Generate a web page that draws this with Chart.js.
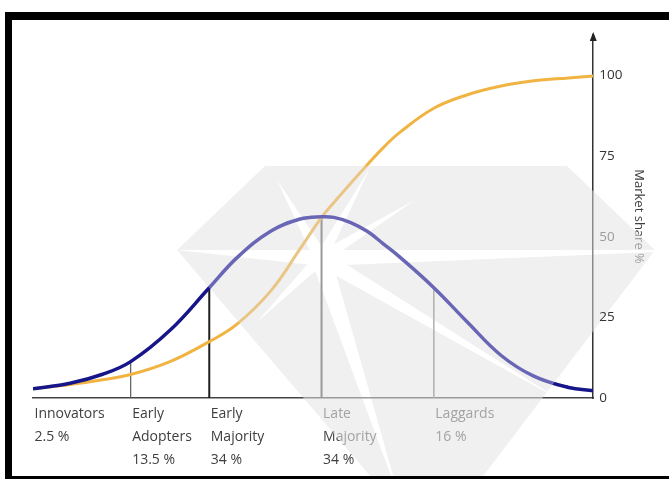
<!DOCTYPE html>
<html>
<head>
<meta charset="utf-8">
<script src="https://cdn.jsdelivr.net/npm/chart.js@4"></script>
<style>
  html, body { margin: 0; padding: 0; background: #fff; overflow: hidden; }
  #wrap { position: relative; width: 669px; height: 479px; }
  #c { position: absolute; left: 0; top: 0; }
  .bar { position: absolute; background: #000; }
</style>
</head>
<body>
<div id="wrap">
  <canvas id="c" width="669" height="479"></canvas>
  <div class="bar" style="left:5px;top:12px;width:664px;height:8px"></div>
  <div class="bar" style="left:5px;top:12px;width:7px;height:467px"></div>
  <div class="bar" style="left:5px;top:476px;width:664px;height:3px"></div>
</div>
<script>
// Adoption time, in standard deviations from the mean adoption time
const adoptionTime = [-2.57, -2.24, -1.95, -1.7, -1.35, -1, -0.75, -0.45, -0.19, 0, 0.11,
                      0.26, 0.41, 0.55, 0.7, 1, 1.3, 1.6, 1.89, 2.2, 2.42];
// Share of adopters entering at each moment (bell curve)
const adopterShare = [2.9, 4.6, 7.4, 11.3, 21.0, 34.2, 43.6, 51.8, 55.5, 56.2, 56.0,
                      54.4, 51.6, 47.8, 43.6, 34.2, 23.5, 13.2, 6.8, 3.3, 2.3];
// Cumulative market share (S curve)
const marketShare = [2.9, 4.2, 5.7, 7.3, 11.3, 17.5, 23.0, 33.3, 46.3, 56.0, 60.6,
                     66.6, 72.4, 77.6, 82.4, 89.8, 94.0, 96.7, 98.3, 99.2, 99.8];

// Adopter categories
const categoryNames  = ['Innovators', 'Early Adopters', 'Early Majority', 'Late Majority', 'Laggards'];
const categoryShares = [2.5, 13.5, 34, 34, 16];
const categoryStarts = [-2.57, -1.7, -1, 0, 1];

// Market share axis ticks
const shareTicks = [0, 25, 50, 75, 100];
const shareTitle = 'Market share %';

const FONT = 'Open Sans';
const LABEL_SIZE = 14, LABEL_LH = 1.64;
const W = 669, H = 479;
const categoryLabels = categoryNames.map((n, i) =>
  (n.indexOf(' ') > 0 ? n.split(' ') : [n]).concat([categoryShares[i] + ' %']));

// Faint gem-shaped backdrop: everything inside it is drawn a shade lighter
const GEM = [[265, 166], [567, 166], [655, 250], [430, 546], [177, 250]];
function addGem(g) {
  g.moveTo(GEM[0][0], GEM[0][1]);
  for (let i = 1; i < GEM.length; i++) g.lineTo(GEM[i][0], GEM[i][1]);
  g.closePath();
}
function twoTone(outside, inside) {
  const cv = document.createElement('canvas');
  cv.width = W; cv.height = H;
  const g = cv.getContext('2d');
  g.fillStyle = outside; g.fillRect(0, 0, W, H);
  g.beginPath(); addGem(g); g.fillStyle = inside; g.fill();
  return g.createPattern(cv, 'no-repeat');
}
// Paint text darker outside the gem and lighter inside it
function twoToneText(ctx, paint, outside, inside) {
  ctx.save();
  ctx.beginPath(); ctx.rect(0, 0, W, H); addGem(ctx); ctx.clip('evenodd');
  ctx.fillStyle = outside; paint();
  ctx.restore();
  ctx.save();
  ctx.beginPath(); addGem(ctx); ctx.clip();
  ctx.fillStyle = inside; paint();
  ctx.restore();
}

// Divider lines rise from the baseline up to the bell curve
const dividerStyles = [
  { color: twoTone('#5a5a5a', '#a0a0a0'), width: 1.2 },
  { color: twoTone('#1e1e1e', '#8c8c8c'), width: 2 },
  { color: twoTone('#303030', '#9a9a9a'), width: 2 },
  { color: twoTone('#505050', '#b0b0b0'), width: 1.5 }
];
const dividers = categoryStarts.slice(1).map((x, i) => {
  const h = adopterShare[adoptionTime.indexOf(x)];
  return {
    type: 'line',
    data: [{ x: x, y: 0 }, { x: x, y: h }],
    borderColor: dividerStyles[i].color,
    borderWidth: dividerStyles[i].width,
    pointRadius: 0,
    tension: 0,
    order: 5
  };
});

const toPoints = ys => adoptionTime.map((x, i) => ({ x: x, y: ys[i] }));

const backdrop = {
  id: 'backdrop',
  beforeDraw(chart) {
    const ctx = chart.ctx;
    ctx.save();
    ctx.beginPath(); addGem(ctx);
    ctx.fillStyle = '#f0f0f0';
    ctx.fill();
    ctx.clip();
    ctx.fillStyle = '#ffffff';
    const cx = 321, cy = 258;
    const rays = [
      [277, 180, 7], [370, 168, 6], [415, 200, 6], [177, 250, 8],
      [700, 250, 8], [257, 322, 6], [560, 400, 8], [400, 500, 10]
    ];
    rays.forEach(([tx, ty, w]) => {
      const dx = tx - cx, dy = ty - cy, L = Math.hypot(dx, dy);
      const nx = -dy / L * w, ny = dx / L * w;
      ctx.beginPath();
      ctx.moveTo(cx + nx, cy + ny);
      ctx.lineTo(tx, ty);
      ctx.lineTo(cx - nx, cy - ny);
      ctx.closePath();
      ctx.fill();
    });
    ctx.beginPath(); ctx.arc(cx, cy, 10, 0, Math.PI * 2); ctx.fill();
    ctx.restore();
  },
  afterDraw(chart) {
    const ctx = chart.ctx;
    const a = chart.chartArea;
    // arrow head on the market share axis
    ctx.save();
    ctx.fillStyle = '#222';
    ctx.beginPath();
    ctx.moveTo(a.right, a.top - 3);
    ctx.lineTo(a.right - 3.5, a.top + 6);
    ctx.lineTo(a.right + 3.5, a.top + 6);
    ctx.closePath();
    ctx.fill();
    ctx.restore();

    // category labels under the baseline
    const xs = chart.scales.x;
    const lh = LABEL_SIZE * LABEL_LH;
    const top = xs.top + xs.options.ticks.padding;
    ctx.save();
    ctx.font = LABEL_SIZE + 'px "' + FONT + '"';
    ctx.textAlign = 'left';
    ctx.textBaseline = 'middle';
    twoToneText(ctx, () => {
      categoryLabels.forEach((lines, i) => {
        const px = xs.getPixelForValue(categoryStarts[i]) + 1.5;
        lines.forEach((t, j) => ctx.fillText(t, px, top + lh / 2 + j * lh));
      });
    }, '#404040', '#a3a3a3');
    ctx.restore();

    // market share axis title, reading downwards
    const ys = chart.scales.y;
    ctx.save();
    ctx.font = '13px "' + FONT + '"';
    ctx.textAlign = 'center';
    ctx.textBaseline = 'middle';
    twoToneText(ctx, () => {
      ctx.save();
      ctx.translate(ys.right - 13, (ys.top + ys.bottom) / 2);
      ctx.rotate(Math.PI / 2);
      ctx.fillText(shareTitle, 0, 0);
      ctx.restore();
    }, '#404040', '#a3a3a3');
    ctx.restore();
  }
};

new Chart(document.getElementById('c'), {
  type: 'line',
  data: {
    datasets: [
      {
        data: toPoints(adopterShare),
        borderColor: twoTone('#16168a', '#6a66b6'),
        borderWidth: 3.5,
        pointRadius: 0,
        tension: 0.4,
        order: 0
      },
      {
        data: toPoints(marketShare),
        borderColor: twoTone('#f1b443', '#e9c685'),
        borderWidth: 3,
        pointRadius: 0,
        tension: 0.4,
        order: 1
      }
    ].concat(dividers)
  },
  options: {
    responsive: false,
    animation: false,
    events: [],
    layout: { padding: { left: 33, top: 35, right: 17, bottom: 4 } },
    plugins: { legend: { display: false }, tooltip: { enabled: false } },
    scales: {
      x: {
        type: 'linear',
        min: adoptionTime[0],
        max: adoptionTime[adoptionTime.length - 1],
        grid: { display: false, drawTicks: false },
        border: { display: true, color: twoTone('#444444', '#9a9a9a'), width: 1.5 },
        afterBuildTicks: s => { s.ticks = categoryStarts.map(v => ({ value: v })); },
        ticks: {
          align: 'start',
          autoSkip: false,
          maxRotation: 0,
          padding: 4,
          color: 'rgba(0,0,0,0)',
          font: { family: FONT, size: LABEL_SIZE, lineHeight: LABEL_LH },
          callback: (v, i) => categoryLabels[i]
        }
      },
      y: {
        position: 'right',
        min: 0,
        max: 112.5,
        grid: { display: false, drawTicks: false },
        border: { display: true, color: twoTone('#333333', '#8a8a8a'), width: 1.5 },
        afterBuildTicks: s => { s.ticks = shareTicks.map(v => ({ value: v })); },
        ticks: {
          padding: 6,
          color: c => (c.tick && c.tick.value === 50 ? '#9c9c9c' : '#333333'),
          font: { family: FONT, size: 13.5 }
        },
        title: {
          display: true,
          text: shareTitle,
          color: 'rgba(0,0,0,0)',
          font: { family: FONT, size: 13 },
          padding: { top: 4, bottom: 4 }
        }
      }
    }
  },
  plugins: [backdrop]
});
</script>
</body>
</html>
